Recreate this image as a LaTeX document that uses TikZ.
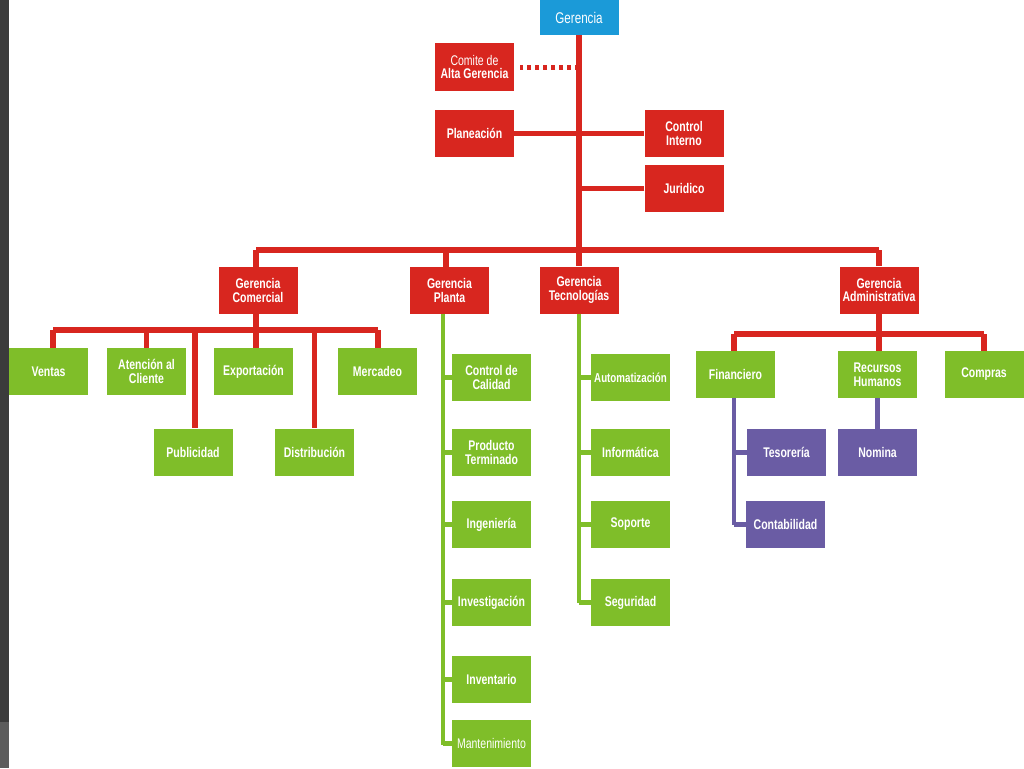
\documentclass[tikz,border=0pt]{standalone}
\usepackage{fontspec}
\setmainfont[FakeStretch=0.75]{Liberation Sans}
\definecolor{cred}{HTML}{D8261F}
\definecolor{cgreen}{HTML}{7FBE29}
\definecolor{cblue}{HTML}{1B9AD8}
\definecolor{cpurple}{HTML}{6A5CA4}
\definecolor{strip}{HTML}{3B3B3B}
\definecolor{strip2}{HTML}{5C5C5C}
\begin{document}
\begin{tikzpicture}[x=1pt,y=-1pt,
  box/.style={minimum width=79pt,minimum height=47pt,inner sep=1pt,text=white,align=center,font=\fontsize{14}{13.5}\selectfont\bfseries},
  rbox/.style={box,fill=cred},
  gbox/.style={box,fill=cgreen},
  pbox/.style={box,fill=cpurple},
  rline/.style={draw=cred,line width=5.2pt},
  gline/.style={draw=cgreen,line width=4.2pt},
  pline/.style={draw=cpurple,line width=4.2pt},
  small/.style={font=\fontsize{13}{13.5}\selectfont\bfseries}]
\useasboundingbox (0,0) rectangle (1024,768);
\fill[white] (0,0) rectangle (1024,768);
\fill[strip] (0,0) rectangle (9,722);
\fill[strip2] (0,722) rectangle (9,768);
% coordinates
\coordinate (trTop) at (579,35);
\coordinate (busL) at (256,250);
\coordinate (busR) at (879,250);
\coordinate (bus) at (579,250);
\coordinate (plaD) at (446,250);
\coordinate (cbL) at (53,330);
\coordinate (cbR) at (378,330);
\coordinate (cbM) at (256,330);
\coordinate (cbP) at (195,330);
\coordinate (ptA) at (443,314);
\coordinate (ptB) at (443,745);
\coordinate (ttB) at (579,602.5);
\coordinate (abL) at (734,334);
\coordinate (abR) at (984,334);
\coordinate (abM) at (879,334);
\coordinate (ftB) at (734,524.5);
% top nodes
\node[box,fill=cblue,minimum height=35pt,font=\fontsize{15.5}{15}\selectfont] (ger) at (579,17.5) {Gerencia};
\node[rbox,minimum height=48pt] (com) at (474.5,67) {{\mdseries Comite de}\\Alta Gerencia};
\node[rbox] (plan) at (474.5,133.5) {Planeación};
\node[rbox] (ctrl) at (684,133.5) {Control\\Interno};
\node[rbox] (jur) at (684,188.5) {Juridico};
\node[rbox] (gcom) at (258,290.5) {Gerencia\\Comercial};
\node[rbox] (gpla) at (449.5,290.5) {Gerencia\\Planta};
\node[rbox] (gtec) at (579,290) {Gerencia\\Tecnologías};
\node[rbox] (gadm) at (879,290) {Gerencia\\Administrativa};
% comercial children
\node[gbox] (ven) at (48.5,371.5) {Ventas};
\node[gbox] (ate) at (146.5,371.5) {Atención al\\Cliente};
\node[gbox] (exp) at (253.5,371.5) {Exportación};
\node[gbox] (mer) at (377.5,371.5) {Mercadeo};
\node[gbox] (pub) at (193,452) {Publicidad};
\node[gbox] (dis) at (314.5,452) {Distribución};
% planta children
\node[gbox] (cal) at (491.5,377.5) {Control de\\Calidad};
\node[gbox] (pro) at (491.5,452.5) {Producto\\Terminado};
\node[gbox] (ing) at (491.5,524.5) {Ingeniería};
\node[gbox] (inv) at (491.5,602.5) {Investigación};
\node[gbox] (ivt) at (491.5,679.5) {Inventario};
\node[gbox,font=\fontsize{14}{13.5}\selectfont] (man) at (491.5,743.5) {Mantenimiento};
% tecnologias children
\node[gbox,small] (aut) at (630.5,377.5) {Automatización};
\node[gbox] (inf) at (630.5,452.5) {Informática};
\node[gbox] (sop) at (630.5,524.5) {Soporte};
\node[gbox] (seg) at (630.5,602.5) {Seguridad};
% administrativa children
\node[gbox] (fin) at (735.5,374.5) {Financiero};
\node[gbox] (rrh) at (877.5,374.5) {Recursos\\Humanos};
\node[gbox] (cmp) at (984,374.5) {Compras};
\node[pbox] (tes) at (786.5,452.5) {Tesorería};
\node[pbox] (con) at (785.5,524.5) {Contabilidad};
\node[pbox] (nom) at (877.5,452.5) {Nomina};
% red connectors
\draw[rline] (ger.south) -- (bus);
\draw[draw=cred,line width=5pt,dash pattern=on 4.5pt off 3.5pt,shorten >=6pt] (com.east -| trTop) -- (com.east);
\draw[rline] (plan.east) -- (ctrl.west);
\draw[rline] (jur.west) -- (jur.west -| trTop);
\draw[rline] (busL) -- (busR);
\draw[rline] (busL) -- (busL |- gcom.north);
\draw[rline] (plaD) -- (plaD |- gpla.north);
\draw[rline] (bus) -- (gtec.north);
\draw[rline] (busR) -- (gadm.north);
\draw[rline] (cbM |- gcom.south) -- (cbM);
\draw[rline] (cbL) -- (cbR);
\draw[rline] (cbL) -- (cbL |- ven.north);
\draw[rline] (ate.north |- cbL) -- (ate.north);
\draw[rline] (cbM) -- (cbM |- exp.north);
\draw[rline] (cbR) -- (cbR |- mer.north);
\draw[rline] (cbP) -- (cbP |- pub.north);
\draw[rline] (dis.north |- cbL) -- (dis.north);
\draw[rline] (abM |- gadm.south) -- (abM);
\draw[rline] (abL) -- (abR);
\draw[rline] (abL) -- (abL |- fin.north);
\draw[rline] (abM) -- (abM |- rrh.north);
\draw[rline] (abR) -- (cmp.north);
% green connectors
\draw[gline] (ptA) -- (ptB);
\foreach \n in {cal,pro,ing,inv,ivt,man} \draw[gline] (\n.west) -- (\n.west -| ptA);
\draw[gline] (gtec.south) -- (ttB);
\foreach \n in {aut,inf,sop,seg} \draw[gline] (\n.west) -- (\n.west -| ttB);
% purple connectors
\draw[pline] (abL |- fin.south) -- (ftB);
\draw[pline] (tes.west) -- (tes.west -| ftB);
\draw[pline] (con.west) -- (ftB);
\draw[pline] (rrh.south) -- (nom.north);
\end{tikzpicture}
\end{document}
